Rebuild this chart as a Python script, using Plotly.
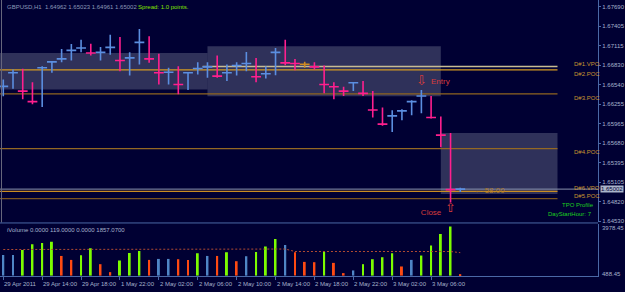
import plotly.graph_objects as go

# ---------------- data ----------------
symbol_header = "GBPUSD,H1  1.64962 1.65023 1.64961 1.65002"
spread_text = "Spread: 1.0 points."
vol_header = "iVolume 0.0000 119.0000 0.0000 1857.0700"

bar_index = list(range(48))
highs = [1.66618, 1.66764, 1.66774, 1.66578, 1.66812, 1.66885, 1.67067, 1.67140, 1.67203, 1.67144,
         1.67096, 1.67276, 1.67242, 1.67017, 1.67359, 1.67254, 1.66998, 1.66789, 1.66812, 1.66724,
         1.66871, 1.66871, 1.66969, 1.66837, 1.66871, 1.67023, 1.66935, 1.66812, 1.67081, 1.67203,
         1.66920, 1.66877, 1.66871, 1.66822, 1.66578, 1.66511, 1.66578, 1.66593, 1.66446, 1.66204,
         1.66164, 1.66179, 1.66310, 1.66461, 1.66373, 1.66072, 1.65827, 1.65023]
lows = [1.66369, 1.66481, 1.66325, 1.66252, 1.66212, 1.66716, 1.66871, 1.66896, 1.67017, 1.66969,
        1.66896, 1.66983, 1.66739, 1.66676, 1.66837, 1.66862, 1.66544, 1.66544, 1.66398, 1.66461,
        1.66691, 1.66642, 1.66642, 1.66593, 1.66676, 1.66739, 1.66578, 1.66632, 1.66680, 1.66827,
        1.66754, 1.66789, 1.66764, 1.66413, 1.66325, 1.66373, 1.66446, 1.66373, 1.66057, 1.65934,
        1.65842, 1.66018, 1.66091, 1.66120, 1.66043, 1.65618, 1.64803, 1.64961]
closes = [1.66515, 1.66716, 1.66446, 1.66291, 1.66789, 1.66877, 1.66920, 1.67046, 1.67081, 1.67008,
          1.67017, 1.67090, 1.66896, 1.66935, 1.67163, 1.66920, 1.66716, 1.66724, 1.66544, 1.66716,
          1.66779, 1.66803, 1.66666, 1.66716, 1.66822, 1.66852, 1.66657, 1.66701, 1.67017, 1.66862,
          1.66852, 1.66841, 1.66803, 1.66544, 1.66511, 1.66446, 1.66569, 1.66413, 1.66168, 1.65959,
          1.66081, 1.66154, 1.66291, 1.66373, 1.66057, 1.65798, 1.64994, 1.65002]
bar_dir = ["u", "u", "d", "d", "u", "u", "u", "u", "u", "d",
           "u", "u", "d", "u", "u", "d", "d", "u", "d", "u",
           "u", "u", "d", "u", "u", "u", "d", "u", "u", "d",
           "d", "f", "d", "d", "d", "d", "u", "d", "d", "d",
           "u", "u", "u", "u", "d", "d", "d", "u"]

volumes = [1672, 1672, 2074, 2532, 2636, 2749, 1591, 1270, 1648, 2210,
           924, 281, 1222, 1832, 1993, 1270, 1350, 1350, 1326, 1270,
           1808, 1591, 1591, 1889, 1165, 1567, 1913, 2347, 2958, 2475,
           1889, 1109, 1085, 1913, 1029, 201, 418, 924, 1326, 1487,
           1808, 739, 1270, 1623, 2427, 3359, 3978, 119]
vol_kind = ["b", "b", "g", "g", "g", "g", "r", "r", "g", "g",
            "r", "r", "g", "g", "g", "r", "b", "b", "r", "r",
            "g", "b", "r", "g", "r", "b", "g", "g", "g", "b",
            "r", "r", "r", "g", "r", "r", "b", "g", "g", "g",
            "g", "r", "b", "g", "g", "g", "g", "r"]
vol_ma = [2110] * 15 + [2150] * 15 + [1950] * 17 + [1857]

price_ticks = [1.67690, 1.67405, 1.67115, 1.66830, 1.66540, 1.66255, 1.65965,
               1.65680, 1.65395, 1.65105, 1.64820, 1.64530]
current_price = 1.65002
vol_top_label = "3978.45"
vol_bottom_label = "488.45"

time_tick_idx = [0, 4, 8, 12, 16, 20, 24, 28, 32, 36, 40, 44]
time_labels = ["29 Apr 2011", "29 Apr 14:00", "29 Apr 18:00", "1 May 22:00", "2 May 02:00",
               "2 May 06:00", "2 May 10:00", "2 May 14:00", "2 May 18:00", "2 May 22:00",
               "3 May 02:00", "3 May 06:00"]

# TPO value-area boxes (bar index span, price span)
box_x0 = [-0.34, 21, 45]
box_x1 = [21, 45, 57]
box_top = [1.67008, 1.67105, 1.65827]
box_bottom = [1.66471, 1.66369, 1.64931]

# POC / VPOC levels
level_names = ["D#1.VPO", "D#2.POC", "D#3.POC", "D#4.POC", "D#6.VPO", "D#5.POC"]
level_prices = [1.66808, 1.66759, 1.66405, 1.65598, 1.64969, 1.64862]
level_start = [20.5, -0.34, -0.34, -0.34, -0.34, -0.34]
level_end = 57

# trade marks
trade_idx = [43, 46]
trade_price = [1.66581, 1.64716]
trade_symbol = ["\u21e9", "\u21e7"]
trade_text = ["Entry", "Close"]
trade_text_idx = [44.95, 44.0]
trade_text_price = [1.66581, 1.64653]
pnl_text = "\u2190-58.00"
pnl_idx = 48.2
pnl_price = 1.64979

# ---------------- style ----------------
W, H = 625, 292
BG = "#000033"
AX = "#4a68a6"
TXT = "#a6b2cc"
FONT = "Liberation Sans"
PLOT_R = 601
SP, OFF = 9.77, 3.3
XR = [(0 - OFF) / SP, (PLOT_R - OFF) / SP]
PMAX = 1.67788
PMIN = PMAX - 224 * 0.00014631
level_colors = ["#c8bc92", "#d49a22", "#8f6420", "#946823", "#c98d22", "#7a5520"]
label_yshift = [2.5, -4.4, -3.8, -3.6, 3.2, 2.5]


def py(pix):
    return 1 - pix / H


fig = go.Figure()

# boxes
for x0, x1, yt, yb in zip(box_x0, box_x1, box_top, box_bottom):
    fig.add_trace(go.Scatter(x=[x0, x1, x1, x0, x0], y=[yb, yb, yt, yt, yb], mode="lines",
                             fill="toself", fillcolor="rgba(112,116,145,0.42)",
                             line=dict(width=0), hoverinfo="skip"))

# level lines
for p, s, c in zip(level_prices, level_start, level_colors):
    fig.add_trace(go.Scatter(x=[s, level_end], y=[p, p], mode="lines",
                             line=dict(color=c, width=1.3), hoverinfo="skip"))

# bid line
fig.add_trace(go.Scatter(x=[XR[0], XR[1]], y=[current_price, current_price], mode="lines",
                         line=dict(color="#8a92ae", width=1), hoverinfo="skip"))

# price bars
dir_colors = {"u": "#5b8ee0", "d": "#ff1f8e", "f": "#d08a20"}
for d, col in dir_colors.items():
    xs, ys, cx, cy = [], [], [], []
    for i in bar_index:
        if bar_dir[i] != d:
            continue
        xs += [i, i, None]
        ys += [lows[i], highs[i], None]
        cx.append(i)
        cy.append(closes[i])
    fig.add_trace(go.Scatter(x=xs, y=ys, mode="lines", line=dict(color=col, width=1.6),
                             hoverinfo="skip"))
    fig.add_trace(go.Scatter(x=cx, y=cy, mode="markers",
                             marker=dict(symbol="line-ew", size=7,
                                         line=dict(color=col, width=1.6)),
                             hoverinfo="skip"))

# trade arrows
fig.add_trace(go.Scatter(x=trade_idx, y=trade_price, mode="text", text=trade_symbol,
                         textfont=dict(family="DejaVu Sans", size=13, color="#d83c3c"),
                         hoverinfo="skip"))
fig.add_trace(go.Scatter(x=trade_text_idx, y=trade_text_price, mode="text", text=trade_text,
                         textfont=dict(family=FONT, size=8, color="#d83c3c"),
                         hoverinfo="skip"))

# volume
vcol = {"g": "#7cfc00", "r": "#ff4a12", "b": "#4f86c6"}
fig.add_trace(go.Bar(x=bar_index, y=volumes, marker=dict(color=[vcol[k] for k in vol_kind],
                     line=dict(width=0)), width=0.2, xaxis="x2", yaxis="y2", hoverinfo="skip"))
fig.add_trace(go.Scatter(x=bar_index, y=vol_ma, mode="lines", xaxis="x2", yaxis="y2",
                         line=dict(color="#b04a32", width=1, dash="2px,2px"), hoverinfo="skip"))

ann = []
small = dict(family=FONT, size=6, color=TXT)
ann.append(dict(text=symbol_header, xref="paper", yref="paper", x=5 / W, y=py(7.3),
                xanchor="left", yanchor="middle", showarrow=False,
                font=dict(family=FONT, size=6, color="#8c98b8")))
ann.append(dict(text=spread_text, xref="paper", yref="paper", x=137 / W, y=py(7.3),
                xanchor="left", yanchor="middle", showarrow=False,
                font=dict(family=FONT, size=6, color="#86e000")))
ann.append(dict(text=vol_header, xref="paper", yref="paper", x=5 / W, y=py(231.7),
                xanchor="left", yanchor="middle", showarrow=False, font=small))
for name, p, dy in zip(level_names, level_prices, label_yshift):
    ann.append(dict(text=name, xref="paper", yref="y", x=575 / W, y=p, yshift=dy,
                    xanchor="left", yanchor="middle", showarrow=False,
                    font=dict(family=FONT, size=6, color="#c99530")))
ann.append(dict(text="TPO Profile", xref="paper", yref="paper", x=563 / W, y=py(206.5),
                xanchor="left", yanchor="middle", showarrow=False, font=dict(family=FONT, size=6, color="#1fcf1f")))
ann.append(dict(text="DayStartHour: 7", xref="paper", yref="paper", x=597 / W, y=py(215.5),
                xanchor="right", yanchor="middle", showarrow=False, font=dict(family=FONT, size=6, color="#1fcf1f")))
ann.append(dict(text=pnl_text, xref="x", yref="y", x=pnl_idx, y=pnl_price, xanchor="left",
                yanchor="middle", showarrow=False, font=dict(family=FONT, size=8, color="#b07a2a")))
ann.append(dict(text=f"{current_price:.5f}", xref="paper", yref="y", x=(PLOT_R + 1.5) / W, y=current_price,
                xanchor="left", yanchor="middle", showarrow=False, bgcolor="#aab4ca", borderpad=0,
                font=dict(family=FONT, size=6, color="#000033")))
ann.append(dict(text=vol_top_label, xref="paper", yref="paper", x=(PLOT_R + 2) / W, y=py(230),
                xanchor="left", yanchor="middle", showarrow=False, font=small))
ann.append(dict(text=vol_bottom_label, xref="paper", yref="paper", x=(PLOT_R + 2) / W, y=py(275.7),
                xanchor="left", yanchor="middle", showarrow=False, font=small))
for idx, lab in zip(time_tick_idx, time_labels):
    ann.append(dict(text=lab, xref="x2", yref="paper", x=idx, y=py(286.3), xshift=-1,
                    xanchor="left", yanchor="middle", showarrow=False, font=small))

shapes = [
    dict(type="line", xref="paper", yref="paper", x0=1.5 / W, x1=1.5 / W, y0=py(224), y1=1,
         line=dict(color="#68687e", width=1)),
    dict(type="line", xref="paper", yref="paper", x0=0, x1=PLOT_R / W, y0=py(224.5), y1=py(224.5),
         line=dict(color=AX, width=1)),
]

fig.update_layout(
    width=W, height=H, margin=dict(l=0, r=0, t=0, b=0),
    paper_bgcolor=BG, plot_bgcolor=BG, showlegend=False, hovermode=False,
    annotations=ann, shapes=shapes,
    xaxis=dict(domain=[0, PLOT_R / W], range=XR, anchor="y", showticklabels=False,
               showgrid=False, zeroline=False, showline=False),
    yaxis=dict(domain=[py(224), 1], range=[PMIN, PMAX], anchor="x", side="right",
               tickvals=price_ticks, ticktext=[f"{v:.5f}" for v in price_ticks],
               tickfont=small, ticks="outside", ticklen=2, tickcolor=AX,
               showline=True, linecolor=AX, linewidth=1, showgrid=False, zeroline=False),
    xaxis2=dict(domain=[0, PLOT_R / W], range=XR, anchor="y2", tickvals=time_tick_idx,
                showticklabels=False, ticks="outside", ticklen=3, tickcolor=AX,
                showline=True, linecolor=AX, linewidth=1, showgrid=False, zeroline=False),
    yaxis2=dict(domain=[py(278), py(226)], range=[-40, 4139], anchor="x2", side="right",
                showticklabels=False, showline=True, linecolor=AX, linewidth=1,
                showgrid=False, zeroline=False),
)

fig.write_html("out.html")
